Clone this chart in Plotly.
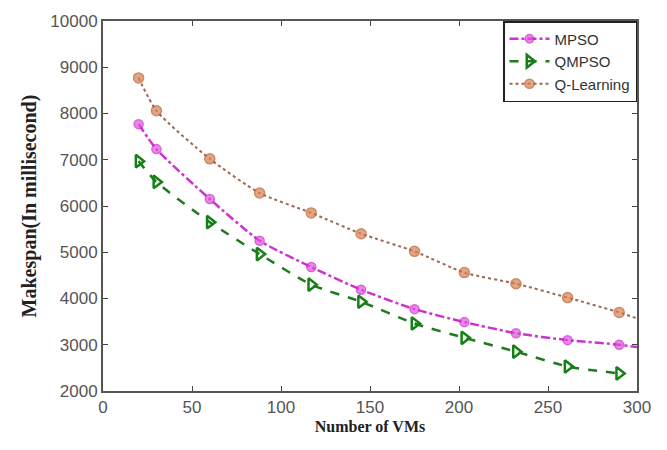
import plotly.graph_objects as go

vms = [20, 30, 60, 88, 117, 145, 175, 203, 232, 261, 290]
line_end_x = 300

mpso = [7770, 7230, 6150, 5250, 4680, 4190, 3770, 3490, 3250, 3100, 3000]
mpso_end = 2950
qmpso = [6970, 6520, 5650, 4960, 4300, 3930, 3460, 3150, 2850, 2530, 2380]
qlearn = [8770, 8060, 7020, 6280, 5850, 5400, 5020, 4560, 4320, 4020, 3700]
qlearn_end = 3570

x_ticks = [0, 50, 100, 150, 200, 250, 300]
y_ticks = [2000, 3000, 4000, 5000, 6000, 7000, 8000, 9000, 10000]
y_tick_labels = [str(v) for v in y_ticks]

fig = go.Figure()

n = len(vms)
fig.add_trace(go.Scatter(
    x=vms + [line_end_x], y=mpso + [mpso_end], name="MPSO",
    mode="lines+markers",
    line=dict(color="#cc33cc", width=2.5, dash="dashdot", shape="spline", smoothing=0.6),
    marker=dict(symbol="circle", size=[9] * n + [0], color="#e055e0",
                line=dict(color="#cc22cc", width=1.5)),
))
fig.add_trace(go.Scatter(
    x=vms, y=qmpso, name="QMPSO",
    mode="lines+markers",
    line=dict(color="#1f7a1f", width=2.5, dash="dash", shape="spline", smoothing=0.6),
    marker=dict(symbol="triangle-right-open", size=11, color="#158015",
                line=dict(color="#158015", width=2.5)),
))
fig.add_trace(go.Scatter(
    x=vms + [line_end_x], y=qlearn + [qlearn_end], name="Q-Learning",
    mode="lines+markers",
    line=dict(color="#9a6a50", width=2, dash="dot", shape="spline", smoothing=0.6),
    marker=dict(symbol="circle", size=[10] * n + [0], color="#d98050",
                line=dict(color="#b8582a", width=1.5)),
))

fig.update_layout(
    width=667, height=450,
    margin=dict(l=103, r=30, t=15, b=59),
    paper_bgcolor="white", plot_bgcolor="white",
    font=dict(family="Liberation Sans, Arial", size=15, color="#444"),
    showlegend=True,
    legend=dict(x=1, y=1, xanchor="right", yanchor="top",
                bgcolor="white", bordercolor="#222", borderwidth=1.5,
                font=dict(size=15, color="#333"), tracegroupgap=0,
                itemwidth=40),
)
fig.update_xaxes(
    range=[0, 300], tickvals=x_ticks, ticks="inside", ticklen=5,
    showline=True, linecolor="#555", linewidth=2, mirror="ticks",
    showgrid=False, zeroline=False,
    tickfont=dict(size=17, color="#555"),
    title=dict(text="<b>Number of VMs</b>", standoff=4,
               font=dict(family="Liberation Serif, Times New Roman", size=16, color="#222")),
)
fig.update_yaxes(
    range=[2000, 10000], tickvals=y_ticks, ticktext=y_tick_labels,
    ticks="inside", ticklen=5,
    showline=True, linecolor="#555", linewidth=2, mirror="ticks",
    showgrid=False, zeroline=False,
    tickfont=dict(size=17, color="#555"),
    title=dict(text="<b>Makespan(In millisecond)</b>", standoff=8,
               font=dict(family="Liberation Serif, Times New Roman", size=20, color="#222")),
)

fig.write_html("out.html")
